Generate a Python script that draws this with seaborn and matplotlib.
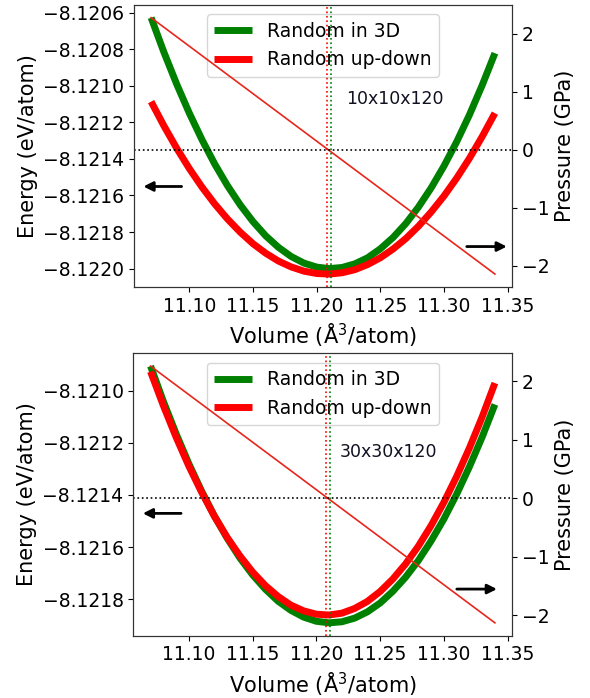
import numpy as np
import pandas as pd
import matplotlib
matplotlib.use("Agg")
import matplotlib.pyplot as plt
import seaborn as sns
from matplotlib.ticker import ScalarFormatter, FormatStrFormatter

# ---------------- data ----------------
volume = [11.07, 11.08, 11.09, 11.10, 11.11, 11.12, 11.13, 11.14, 11.15, 11.16,
          11.17, 11.18, 11.19, 11.20, 11.21, 11.22, 11.23, 11.24, 11.25, 11.26,
          11.27, 11.28, 11.29, 11.30, 11.31, 11.32, 11.33, 11.34]

# panel 1 : 10x10x120
e1_3d = [-8.120628, -8.120816, -8.120990, -8.121150, -8.121296, -8.121429, -8.121547,
         -8.121652, -8.121743, -8.121821, -8.121884, -8.121934, -8.121970, -8.121992,
         -8.122000, -8.121994, -8.121974, -8.121941, -8.121892, -8.121830, -8.121754,
         -8.121663, -8.121558, -8.121439, -8.121306, -8.121159, -8.120997, -8.120822]
e1_ud = [-8.121087, -8.121219, -8.121341, -8.121453, -8.121555, -8.121647, -8.121729,
         -8.121801, -8.121864, -8.121916, -8.121959, -8.121991, -8.122014, -8.122027,
         -8.122030, -8.122023, -8.122006, -8.121978, -8.121941, -8.121893, -8.121836,
         -8.121768, -8.121690, -8.121603, -8.121505, -8.121397, -8.121278, -8.121150]

# panel 2 : 30x30x120
e2_3d = [-8.120906, -8.121041, -8.121165, -8.121280, -8.121385, -8.121480, -8.121565,
         -8.121641, -8.121706, -8.121761, -8.121807, -8.121842, -8.121868, -8.121884,
         -8.121890, -8.121886, -8.121872, -8.121848, -8.121814, -8.121769, -8.121715,
         -8.121651, -8.121576, -8.121492, -8.121397, -8.121292, -8.121178, -8.121053]
e2_ud = [-8.120927, -8.121057, -8.121178, -8.121289, -8.121389, -8.121481, -8.121562,
         -8.121633, -8.121695, -8.121747, -8.121789, -8.121822, -8.121844, -8.121857,
         -8.121860, -8.121853, -8.121835, -8.121808, -8.121770, -8.121722, -8.121664,
         -8.121596, -8.121517, -8.121428, -8.121329, -8.121220, -8.121101, -8.120971]

p_volume = [11.07, 11.34]
p1 = [2.28, -2.14]
p2 = [2.26, -2.13]

v0_3d = 11.211
v0_ud = 11.2078

yticks1 = [-8.1206, -8.1208, -8.1210, -8.1212, -8.1214, -8.1216, -8.1218, -8.1220]
yticks2 = [-8.1210, -8.1212, -8.1214, -8.1216, -8.1218]
xticks = [11.10, 11.15, 11.20, 11.25, 11.30, 11.35]
pticks = [-2, -1, 0, 1, 2]
labels = ["Random in 3D", "Random up-down"]
sizes = ["10x10x120", "30x30x120"]

panels = [
    dict(e3d=e1_3d, eud=e1_ud, p=p1, yt=yticks1, size=sizes[0],
         rect=[0.227, 0.589, 0.641, 0.404], txt=(0.560, 0.665),
         la=(0.126, 0.025, 0.356), ra=(0.880, 0.986, 0.143)),
    dict(e3d=e2_3d, eud=e2_ud, p=p2, yt=yticks2, size=sizes[1],
         rect=[0.226, 0.0893, 0.642, 0.4046], txt=(0.545, 0.650),
         la=(0.126, 0.025, 0.433), ra=(0.854, 0.960, 0.165)),
]

plt.rcParams['font.family'] = ['DejaVu Sans']
fig = plt.figure(figsize=(5.9, 6.98), dpi=100)
fs_tick = 13.5
fs_lab = 15

for pn in panels:
    ax = fig.add_axes(pn['rect'])
    df = pd.DataFrame({
        "V": volume * 2,
        "E": pn['e3d'] + pn['eud'],
        "kind": [labels[0]] * len(volume) + [labels[1]] * len(volume),
    })
    sns.lineplot(data=df, x="V", y="E", hue="kind", palette=["green", "red"],
                 linewidth=5, ax=ax, sort=False, estimator=None,
                 solid_joinstyle='round', solid_capstyle='butt')
    ax.set_yticks(pn['yt'])
    ax.set_xticks(xticks)
    ax.yaxis.set_major_formatter(ScalarFormatter(useOffset=False))
    ax.xaxis.set_major_formatter(FormatStrFormatter('%.2f'))
    ax.tick_params(labelsize=fs_tick)
    ax.set_xlabel(r'Volume ($\mathrm{\AA}^3$/atom)', fontsize=fs_lab)
    ax.set_ylabel('Energy (eV/atom)', fontsize=fs_lab)
    leg = ax.legend(loc='upper center', fontsize=fs_tick, handlelength=2.0)
    for h in leg.get_lines():
        h.set_linewidth(5)

    ax2 = ax.twinx()
    sns.lineplot(x=p_volume, y=pn['p'], color='#e8261b', linewidth=1.2, ax=ax2)
    ax2.axhline(0, color='black', linestyle=':', linewidth=1.2)
    ax2.axvline(v0_ud, color='red', linestyle=':', linewidth=1.2)
    ax2.axvline(v0_3d, color='green', linestyle=':', linewidth=1.2)
    ax2.set_yticks(pticks)
    ax2.tick_params(labelsize=fs_tick)
    ax2.set_ylabel('Pressure (GPa)', fontsize=fs_lab)

    ax2.text(pn['txt'][0], pn['txt'][1], pn['size'], transform=ax2.transAxes,
             fontsize=12.5, va='center', ha='left', color='#111122')
    for (x0, x1, y) in [pn['la'], pn['ra']]:
        ax2.annotate('', xy=(x1, y), xytext=(x0, y), xycoords='axes fraction',
                     textcoords='axes fraction',
                     arrowprops=dict(arrowstyle='-|>', color='black', lw=2,
                                     mutation_scale=14, shrinkA=0, shrinkB=0))
    for a in (ax, ax2):
        for s in a.spines.values():
            s.set_color('#333333')

fig.savefig('out.png', dpi=100)
